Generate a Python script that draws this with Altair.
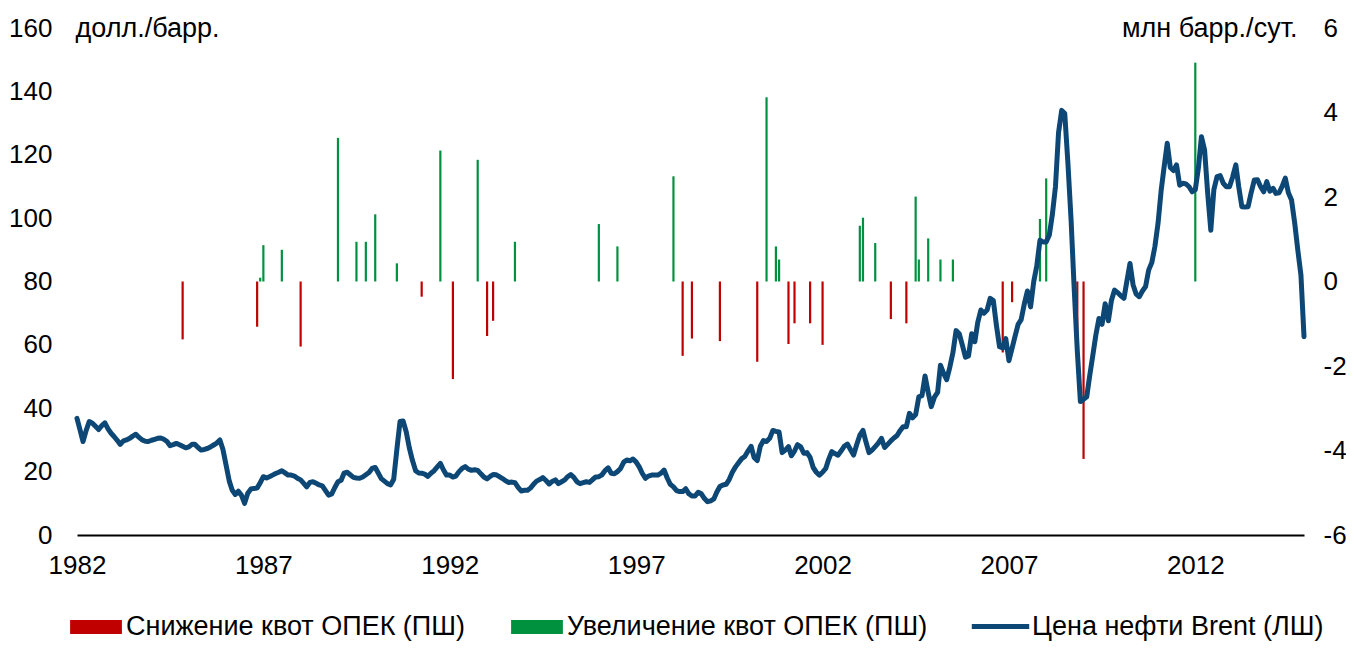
import altair as alt
import pandas as pd

# ---------------- data ----------------
brent_1982 = [36.8, 33, 29.5, 33, 35.8, 35.3, 34.3, 33.3, 34.5, 35.4, 33.5, 32.1]
brent_1983 = [31.0, 29.8, 28.6, 29.7, 30, 30.5, 31.2, 31.8, 30.8, 30, 29.6, 29.5]
brent_1984 = [29.9, 30.2, 30.5, 30.6, 30.2, 29.5, 28.2, 28.5, 28.9, 28.5, 28, 27.5]
brent_1985 = [27.8, 28.6, 28.6, 27.6, 26.8, 27, 27.3, 27.8, 28.4, 29, 30, 27]
brent_1986 = [22, 17, 14.2, 12.8, 13.8, 12.5, 10, 13.2, 14.5, 14.7, 14.8, 16.5]
brent_1987 = [18.4, 18, 18.4, 18.9, 19.4, 19.8, 20.3, 19.6, 18.9, 18.9, 18.6, 17.9]
brent_1988 = [17.4, 16.3, 15.2, 16.6, 16.8, 16.3, 15.8, 15.5, 14, 12.6, 13, 15]
brent_1989 = [16.8, 17.3, 19.5, 19.8, 19, 18.2, 18, 17.9, 18.3, 19, 19.7, 21]
brent_1990 = [21.3, 19.5, 17.8, 17, 16.2, 15.8, 17.6, 27, 35.8, 36, 32.5, 27.5]
brent_1991 = [23.5, 20.3, 19.6, 19.5, 19.2, 18.5, 19.5, 20.3, 21.5, 22.6, 20.5, 18.9]
brent_1992 = [18.9, 18.3, 18.6, 20, 21, 21.6, 20.8, 20.4, 20.6, 20.4, 19.3, 18.3]
brent_1993 = [17.7, 18.5, 19.1, 19, 18.4, 17.8, 17.1, 16.6, 16.7, 16.5, 15, 13.9]
brent_1994 = [14.1, 14.1, 14.8, 16, 17, 17.5, 18.1, 17.2, 16.1, 16.9, 17.4, 16.2]
brent_1995 = [16.8, 17.4, 18.4, 19.1, 18.2, 16.8, 16.2, 16.5, 16.8, 16.6, 17.5, 18.3]
brent_1996 = [18.4, 19, 20.3, 21.2, 19.5, 19.3, 20, 21, 23, 23.7, 23.4, 24]
brent_1997 = [23, 21.4, 19.5, 17.9, 18.6, 18.9, 18.9, 18.9, 19.5, 20.5, 18, 16]
brent_1998 = [15.2, 14, 13.7, 13.7, 14.6, 13, 12.3, 12.3, 13.5, 13, 11.5, 10.5]
brent_1999 = [10.8, 11.4, 13.5, 15.3, 15.8, 16, 17.5, 19.8, 21.5, 22.8, 24.1, 24.8]
brent_2000 = [26.5, 28, 24.5, 23.5, 28, 29.8, 29.5, 30.5, 33, 32.7, 32.5, 26]
brent_2001 = [26.8, 27.9, 25, 26.5, 28.5, 27.8, 25.8, 26, 24.5, 21.3, 19.8, 18.9]
brent_2002 = [19.8, 21, 23.8, 26.3, 25.7, 25.2, 26.5, 28, 28.7, 27, 25.2, 28.5]
brent_2003 = [31.5, 33, 29.5, 26, 26.8, 27.9, 29, 30.5, 27.6, 28.6, 29.7, 30.6]
brent_2004 = [31.4, 33, 34.2, 34.2, 38.4, 37, 38, 43.6, 44, 50.2, 45, 40.5]
brent_2005 = [43.5, 45, 53.6, 51, 49, 53, 57.5, 64.5, 63.5, 60, 56.1, 56.5]
brent_2006 = [63.5, 61, 67, 71, 70, 71, 74.7, 74, 66, 59.4, 59, 62]
brent_2007 = [55, 59, 62.6, 66.5, 68, 73, 77, 72, 80, 85, 93, 92.5]
brent_2008 = [92.5, 94.7, 101, 110, 127, 134, 133, 117.3, 99.4, 78, 58, 42.1]
brent_2009 = [42.8, 43.6, 50, 56.5, 63, 68.3, 66.5, 73, 67.6, 74, 77.3, 76.5]
brent_2010 = [75.5, 74.7, 80, 85.7, 79, 76, 75.2, 77, 78.4, 83.6, 86, 91]
brent_2011 = [98.4, 108.9, 116, 123.6, 116, 115, 116.8, 110.4, 111, 110.8, 109.9, 108.3]
brent_2012 = [109, 116, 125.7, 121.5, 108, 96.2, 109, 113.1, 113.4, 111, 109.9, 109.9]
brent_2013 = [113, 116.8, 110, 103.6, 103.5, 103.6, 108, 112, 112.1, 110, 108.3, 111.5]
brent_2014 = [108.5, 109.4, 107.8, 108, 110, 112.6, 108, 105.7, 98.4, 90, 82, 62.6]

quota_months = [
    "1984-11", "1986-11", "1986-12", "1987-01", "1987-07", "1988-01", "1989-01",
    "1989-07", "1989-10", "1990-01", "1990-08", "1991-04", "1991-10", "1992-02",
    "1992-10", "1993-01", "1993-03", "1993-10", "1996-01", "1996-07", "1998-01",
    "1998-04", "1998-07", "1999-04", "2000-04", "2000-07", "2000-10", "2000-11",
    "2001-02", "2001-04", "2001-09", "2002-01", "2003-01", "2003-02", "2003-06",
    "2003-11", "2004-04", "2004-07", "2004-08", "2004-11", "2005-03", "2005-07",
    "2006-11", "2007-02", "2007-11", "2008-01", "2008-11", "2009-01", "2012-01",
]
quota_changes = [
    -1.37, -1.07, 0.09, 0.86, 0.75, -1.54, 3.40,
    0.94, 0.94, 1.59, 0.43, -0.36, 3.10, -2.31,
    2.88, -1.29, -0.93, 0.94, 1.36, 0.83, 2.49,
    -1.76, -1.35, -1.41, -1.90, 4.36, 0.83, 0.52,
    -1.48, -0.99, -0.99, -1.50, 1.32, 1.51, 0.91,
    -0.89, -0.99, 2.01, 0.52, 1.02, 0.52, 0.52,
    -1.68, -0.49, 1.48, 2.44, -2.00, -4.20, 5.18,
]

label_cut = "Снижение квот ОПЕК (ПШ)"
label_raise = "Увеличение квот ОПЕК (ПШ)"
label_brent = "Цена нефти Brent (ЛШ)"
quota_labels = [label_cut, label_raise]
quota_colors = ["#C00000", "#00913F"]
brent_color = "#0D4776"
year_labels = [1982, 1987, 1992, 1997, 2002, 2007, 2012]

# ---------------- tables ----------------
years = list(range(1982, 2015))
brent_all = []
for y in years:
    brent_all += globals()[f"brent_{y}"]
brent_df = pd.DataFrame({
    "date": pd.date_range("1982-01-01", periods=len(brent_all), freq="MS").strftime("%Y-%m-%d"),
    "price": brent_all,
    "series": label_brent,
})
quota_df = pd.DataFrame({
    "date": [m + "-01" for m in quota_months],
    "change": quota_changes,
    "kind": [label_raise if v > 0 else label_cut for v in quota_changes],
})

FONT = "Liberation Sans"
FS = 26      # tick labels
FT = 27      # titles and legend text

x_scale = alt.Scale(
    domain=[alt.DateTime(year=1982, month=1, date=1), alt.DateTime(year=2014, month=12, date=1)],
    nice=False,
)
x_axis = alt.Axis(
    values=[alt.DateTime(year=y, month=1, date=1) for y in year_labels],
    format="%Y", title=None, ticks=False, grid=False,
    domainColor="#000000", domainWidth=2,
    labelFontSize=FS, labelFont=FONT, labelColor="#000000",
    labelPadding=17, labelFlush=False,
)

legend_common = dict(
    title=None, orient="none", direction="horizontal",
    symbolSize=196, labelFontSize=FT, labelFont=FONT, labelColor="#000000",
    symbolOpacity=1, legendY=585, labelLimit=600,
)

quota_legend = alt.Legend(
    legendX=5,
    symbolType="M-3.7,0 L3.7,0", symbolStrokeWidth=14,
    labelOffset=16, columnPadding=17,
    **legend_common,
)
brent_legend = alt.Legend(
    legendX=910,
    symbolType="M-4.1,0 L4.1,0", symbolStrokeWidth=5,
    labelOffset=18,
    **legend_common,
)

bars = alt.Chart(quota_df).mark_rule(strokeWidth=2.2).encode(
    x=alt.X("date:T", scale=x_scale, axis=x_axis),
    y=alt.Y(
        "change:Q",
        scale=alt.Scale(domain=[-6, 6], nice=False, zero=False),
        axis=alt.Axis(
            orient="right", values=[-6, -4, -2, 0, 2, 4, 6], grid=False, ticks=False,
            domain=False, labelFontSize=FS, labelFont=FONT, labelColor="#000000",
            labelPadding=19, labelExpr="'' + datum.value",
            title="млн барр./сут.", titleAngle=0, titleFont=FONT, titleFontSize=FT,
            titleFontWeight="normal", titleColor="#000000", titleAlign="right",
            titleBaseline="middle", titleX=-7, titleY=0,
        ),
    ),
    y2=alt.datum(0),
    color=alt.Color("kind:N", scale=alt.Scale(domain=quota_labels, range=quota_colors),
                    legend=quota_legend),
)

line = alt.Chart(brent_df).mark_line(strokeWidth=5, strokeJoin="round", strokeCap="round").encode(
    x=alt.X("date:T", scale=x_scale, axis=x_axis),
    y=alt.Y(
        "price:Q",
        scale=alt.Scale(domain=[0, 160], nice=False),
        axis=alt.Axis(
            orient="left", values=list(range(0, 161, 20)), grid=False, ticks=False,
            domain=False, labelFontSize=FS, labelFont=FONT, labelColor="#000000",
            labelPadding=25,
            title="долл./барр.", titleAngle=0, titleFont=FONT, titleFontSize=FT,
            titleFontWeight="normal", titleColor="#000000", titleAlign="left",
            titleBaseline="middle", titleX=-2, titleY=0,
        ),
    ),
    color=alt.Color("series:N", scale=alt.Scale(domain=[label_brent], range=[brent_color]),
                    legend=brent_legend),
)

chart = alt.layer(bars, line).resolve_scale(y="independent", color="independent").properties(
    width=1227, height=507,
    autosize=alt.AutoSizeParams(type="none"),
    padding={"left": 69, "top": 20, "right": 42, "bottom": 106},
    background="#ffffff",
).configure_view(stroke=None)

chart.save("out.html", embed_options={"renderer": "svg", "actions": False})
